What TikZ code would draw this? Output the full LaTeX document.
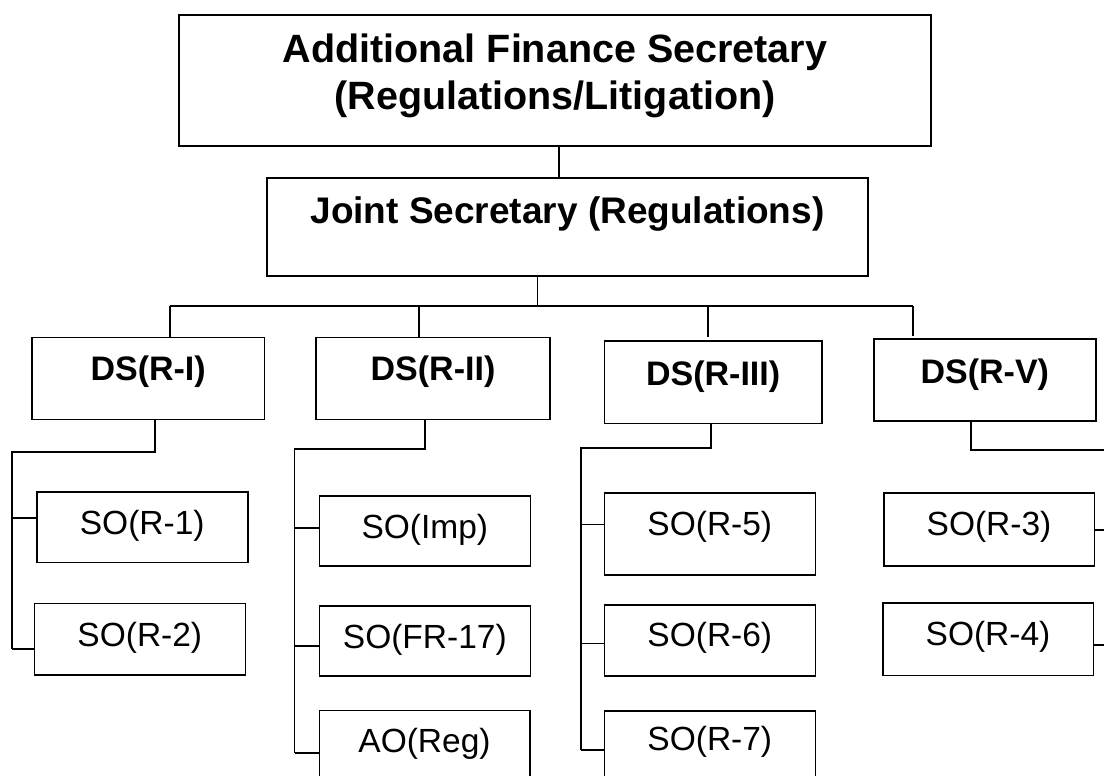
\documentclass[tikz,border=0pt]{standalone}
\usepackage{fontspec}
\setmainfont{Liberation Sans}
\begin{document}
\begin{tikzpicture}[x=1pt,y=-1pt,
  line width=1.6pt,
  box/.style={draw, rectangle, anchor=north west, inner sep=0pt, outer sep=0pt},
  head/.style={box, font=\bfseries\fontsize{34}{40}\selectfont},
  sobox/.style={box, font=\fontsize{33.5}{40}\selectfont}]
\clip (0,0) rectangle (1104,776);
\fill[white] (0,0) rectangle (1104,776);

% top level
\node[box, minimum width=752pt, minimum height=131pt] (afs) at (179,15) {};
\node[anchor=base, font=\bfseries\fontsize{39.5}{47}\selectfont] (afs1) at (555,63) {Additional Finance Secretary};
\node[anchor=base, font=\bfseries\fontsize{39.5}{47}\selectfont] (afs2) at (555,110) {(Regulations/Litigation)};

\node[box, font=\bfseries\fontsize{37}{44}\selectfont, minimum width=601pt, text height=45pt, text depth=53pt] (js) at (267,178) {Joint Secretary (Regulations)};

% deputy secretaries
\node[head, minimum width=232.3pt, text height=43.2pt, text depth=38.8pt] (ds1) at (32,337.3) {DS(R-I)};
\node[head, minimum width=234pt, text height=43.4pt, text depth=38.6pt] (ds2) at (316,337.3) {DS(R-II)};
\node[head, minimum width=217.7pt, text height=44.3pt, text depth=38.3pt] (ds3) at (604.3,340.7) {DS(R-III)};
\node[head, minimum width=221.7pt, text height=44.3pt, text depth=37.7pt] (ds5) at (874,339) {DS(R-V)};

% section officers
\node[sobox, minimum width=211pt, text height=42.3pt, text depth=28pt] (so1) at (36.7,492) {SO(R-1)};
\node[sobox, minimum width=211pt, text height=42.7pt, text depth=29pt] (so2) at (34.3,603.3) {SO(R-2)};
\node[sobox, minimum width=211pt, text height=42.3pt, text depth=28pt] (soimp) at (319.3,495.7) {SO(Imp)};
\node[sobox, minimum width=211pt, text height=42pt, text depth=27.7pt] (sofr) at (319.3,606) {SO(FR-17)};
\node[sobox, minimum width=210.4pt, text height=42.4pt, text depth=37.6pt] (aoreg) at (319.3,710.3) {AO(Reg)};
\node[sobox, minimum width=211pt, text height=42.3pt, text depth=40pt] (so5) at (604.3,492.7) {SO(R-5)};
\node[sobox, minimum width=211pt, text height=41.7pt, text depth=29pt] (so6) at (604.3,605) {SO(R-6)};
\node[sobox, minimum width=211pt, text height=39pt, text depth=41pt] (so7) at (604.3,711) {SO(R-7)};
\node[sobox, minimum width=210.6pt, text height=42.3pt, text depth=31pt] (so3) at (883.7,492.7) {SO(R-3)};
\node[sobox, minimum width=210.6pt, text height=42.3pt, text depth=30.3pt] (so4) at (882.7,602.7) {SO(R-4)};

% connector points
\coordinate (t1) at (559,146);
\coordinate (t2) at (537.3,276);
\coordinate (busL) at (169.7,306);
\coordinate (busA) at (419,306);
\coordinate (busB) at (707.7,306);
\coordinate (busR) at (912.7,306);

% upper tree
\draw (t1) -- (t1 |- js.north);
\draw (t2) -- (t2 |- busL);
\draw (busL) -- (busR);
\draw (busL) -- (busL |- ds1.north);
\draw (busA) -- (busA |- ds2.north);
\draw (busB) -- ([yshift=3.5pt]busB |- ds3.north);
\draw (busR) -- ([yshift=3.3pt]busR |- ds5.north);

% DS(R-I) branch
\coordinate (d1) at (155,419.3);
\coordinate (s1) at (11.7,451.7);
\coordinate (s1a) at (11.7,518);
\coordinate (s1b) at (11.7,649);
\draw (d1) |- (s1) -- (s1b);
\draw (s1a) -- (s1a -| so1.west);
\draw (s1b) -- (s1b -| so2.west);

% DS(R-II) branch
\coordinate (d2) at (424.7,419.3);
\coordinate (s2) at (294.5,449);
\coordinate (s2a) at (294.5,527.7);
\coordinate (s2b) at (294.5,646);
\coordinate (s2c) at (294.5,752.7);
\draw (d2) |- (s2) -- (s2c);
\draw (s2a) -- (s2a -| soimp.west);
\draw (s2b) -- (s2b -| sofr.west);
\draw (s2c) -- (s2c -| aoreg.west);

% DS(R-III) branch
\coordinate (d3) at (711,423.3);
\coordinate (s3) at (581,447.7);
\coordinate (s3a) at (581,524.3);
\coordinate (s3b) at (581,643.3);
\coordinate (s3c) at (581,750);
\draw (d3) |- (s3) -- (s3c);
\draw (s3a) -- (s3a -| so5.west);
\draw (s3b) -- (s3b -| so6.west);
\draw (s3c) -- (s3c -| so7.west);

% DS(R-V) branch, running on past the right edge
\coordinate (d5) at (970.7,421);
\coordinate (e5) at (1106,450);
\coordinate (e3) at (1106,530);
\coordinate (e4) at (1106,645);
\draw (d5) |- (e5);
\draw (e3 -| so3.east) -- (e3);
\draw (e4 -| so4.east) -- (e4);
\end{tikzpicture}
\end{document}
